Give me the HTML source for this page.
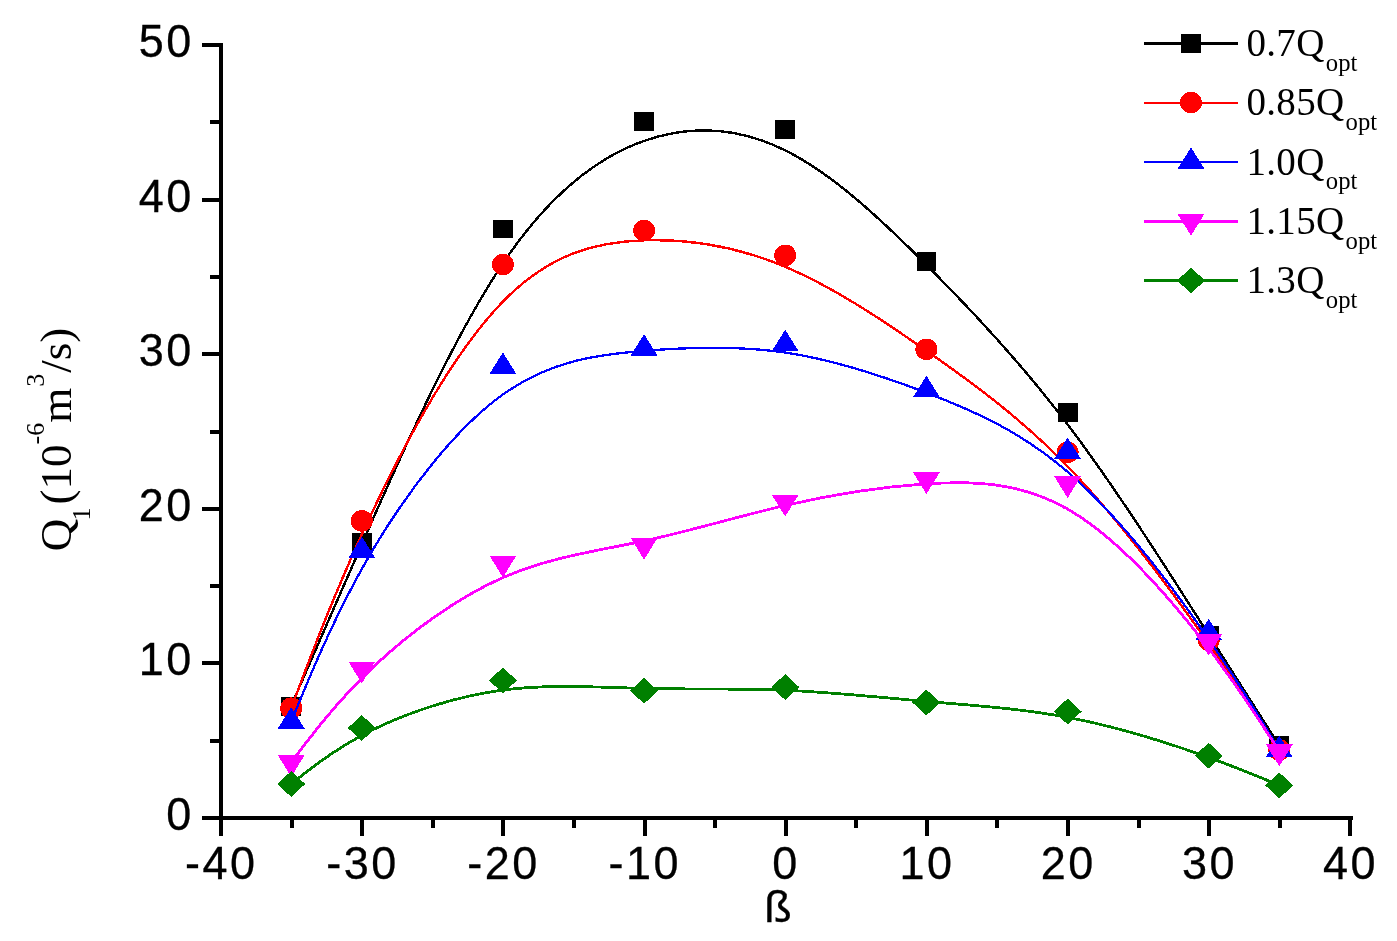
<!DOCTYPE html>
<html lang="en"><head><meta charset="utf-8"><title>Q1 vs beta</title>
<style>html,body{margin:0;padding:0;background:#fff}body{width:1397px;height:941px;overflow:hidden}svg{display:block}.t{font-family:"Liberation Sans",Arial,sans-serif;font-size:45px;letter-spacing:2.5px;fill:#000;stroke:#000;stroke-width:.3px}.l{font-family:"Liberation Serif","Times New Roman",serif;font-size:39px;letter-spacing:.3px;fill:#000}.y{font-family:"Liberation Serif","Times New Roman",serif;font-size:45px;fill:#000}</style></head><body>
<svg width="1397" height="941" viewBox="0 0 1397 941">
<rect width="1397" height="941" fill="#fff"/>
<g fill="#000" shape-rendering="crispEdges">
<rect x="219" y="43" width="4" height="793"/>
<rect x="202" y="816" width="1151" height="4"/>
<rect x="202" y="816" width="19" height="4"/>
<rect x="210" y="739" width="11" height="4"/>
<rect x="202" y="661" width="19" height="4"/>
<rect x="210" y="584" width="11" height="4"/>
<rect x="202" y="507" width="19" height="4"/>
<rect x="210" y="430" width="11" height="4"/>
<rect x="202" y="352" width="19" height="4"/>
<rect x="210" y="275" width="11" height="4"/>
<rect x="202" y="198" width="19" height="4"/>
<rect x="210" y="120" width="11" height="4"/>
<rect x="202" y="43" width="19" height="4"/>
<rect x="219" y="818" width="4" height="18"/>
<rect x="290" y="818" width="4" height="10"/>
<rect x="360" y="818" width="4" height="18"/>
<rect x="431" y="818" width="4" height="10"/>
<rect x="501" y="818" width="4" height="18"/>
<rect x="572" y="818" width="4" height="10"/>
<rect x="643" y="818" width="4" height="18"/>
<rect x="713" y="818" width="4" height="10"/>
<rect x="784" y="818" width="4" height="18"/>
<rect x="854" y="818" width="4" height="10"/>
<rect x="925" y="818" width="4" height="18"/>
<rect x="995" y="818" width="4" height="10"/>
<rect x="1066" y="818" width="4" height="18"/>
<rect x="1137" y="818" width="4" height="10"/>
<rect x="1207" y="818" width="4" height="18"/>
<rect x="1278" y="818" width="4" height="10"/>
<rect x="1348" y="818" width="4" height="18"/>
</g>
<g class="t" text-anchor="end">
<text transform="translate(193.7 830.0) scale(1 1.032)">0</text>
<text transform="translate(193.7 675.4) scale(1 1.032)">10</text>
<text transform="translate(193.7 520.8) scale(1 1.032)">20</text>
<text transform="translate(193.7 366.2) scale(1 1.032)">30</text>
<text transform="translate(193.7 211.6) scale(1 1.032)">40</text>
<text transform="translate(193.7 57.0) scale(1 1.032)">50</text>
</g>
<g class="t" text-anchor="middle">
<text transform="translate(221.3 879) scale(1 1.032)">-40</text>
<text transform="translate(362.5 879) scale(1 1.032)">-30</text>
<text transform="translate(503.6 879) scale(1 1.032)">-20</text>
<text transform="translate(644.8 879) scale(1 1.032)">-10</text>
<text transform="translate(785.9 879) scale(1 1.032)">0</text>
<text transform="translate(927.1 879) scale(1 1.032)">10</text>
<text transform="translate(1068.3 879) scale(1 1.032)">20</text>
<text transform="translate(1209.4 879) scale(1 1.032)">30</text>
<text transform="translate(1350.6 879) scale(1 1.032)">40</text>
<text transform="translate(779.3 922) scale(1 .99)">ß</text>
</g>
<text class="y" transform="translate(71 551.3) rotate(-90)">Q<tspan dx="-1.6" dy="18.7" font-size="26">1</tspan><tspan dx="3" dy="-18.7">(10</tspan><tspan dx="0" dy="-27.3" font-size="26">-6</tspan><tspan dy="27.3">m</tspan><tspan dx="1" dy="-27.3" font-size="26">3</tspan><tspan dx="1" dy="27.3">/s)</tspan></text>
<g shape-rendering="crispEdges">
<path d="M291.18 706.07C291.18 706.07 291.18 706.07 302.94 678.86C314.71 651.65 338.23 597.23 373.52 517.72C408.81 438.20 455.87 333.59 502.92 263.40C549.97 193.21 597.03 157.45 644.08 140.90C691.13 124.36 738.19 127.04 785.24 150.39C832.29 173.73 879.35 217.74 926.40 264.84C973.45 311.94 1020.51 362.14 1067.56 424.34C1114.61 486.54 1161.67 560.75 1196.96 616.30C1232.25 671.85 1255.77 708.75 1267.54 727.20C1279.30 745.65 1279.30 745.65 1279.30 745.65" fill="none" stroke="#000000" stroke-width="2.4"/>
<rect x="281.3" y="696.7" width="19.8" height="18.8" fill="#000000"/>
<rect x="351.9" y="533.4" width="19.8" height="18.8" fill="#000000"/>
<rect x="493.0" y="219.6" width="19.8" height="18.8" fill="#000000"/>
<rect x="634.2" y="112.3" width="19.8" height="18.8" fill="#000000"/>
<rect x="775.3" y="120.3" width="19.8" height="18.8" fill="#000000"/>
<rect x="916.5" y="252.3" width="19.8" height="18.8" fill="#000000"/>
<rect x="1057.7" y="402.9" width="19.8" height="18.8" fill="#000000"/>
<rect x="1198.8" y="625.6" width="19.8" height="18.8" fill="#000000"/>
<rect x="1269.4" y="736.2" width="19.8" height="18.8" fill="#000000"/>
</g>
<g shape-rendering="crispEdges">
<path d="M291.18 708.23C291.18 708.23 291.18 708.23 302.94 677.00C314.71 645.78 338.23 583.32 373.52 509.37C408.81 435.42 455.87 349.97 502.92 301.58C549.97 253.19 597.03 241.86 644.08 240.31C691.13 238.77 738.19 247.01 785.24 266.80C832.29 286.59 879.35 317.92 926.40 350.75C973.45 383.57 1020.51 417.90 1067.56 466.39C1114.61 514.88 1161.67 577.55 1196.96 627.17C1232.25 676.80 1255.77 713.39 1267.54 731.68C1279.30 749.98 1279.30 749.98 1279.30 749.98" fill="none" stroke="#ff0000" stroke-width="2.4"/>
<ellipse cx="291.2" cy="708.2" rx="11" ry="10.8" fill="#ff0000"/>
<ellipse cx="361.8" cy="520.9" rx="11" ry="10.8" fill="#ff0000"/>
<ellipse cx="502.9" cy="264.5" rx="11" ry="10.8" fill="#ff0000"/>
<ellipse cx="644.1" cy="230.5" rx="11" ry="10.8" fill="#ff0000"/>
<ellipse cx="785.2" cy="255.3" rx="11" ry="10.8" fill="#ff0000"/>
<ellipse cx="926.4" cy="349.3" rx="11" ry="10.8" fill="#ff0000"/>
<ellipse cx="1067.6" cy="452.2" rx="11" ry="10.8" fill="#ff0000"/>
<ellipse cx="1208.7" cy="640.2" rx="11" ry="10.8" fill="#ff0000"/>
<ellipse cx="1279.3" cy="750.0" rx="11" ry="10.8" fill="#ff0000"/>
</g>
<g shape-rendering="crispEdges">
<path d="M291.18 721.53C291.18 721.53 291.18 721.53 302.94 693.08C314.71 664.64 338.23 607.74 373.52 548.64C408.81 489.53 455.87 428.20 502.92 394.47C549.97 360.74 597.03 354.61 644.08 350.82C691.13 347.04 738.19 345.59 785.24 352.53C832.29 359.46 879.35 374.76 926.40 392.72C973.45 410.68 1020.51 431.29 1067.56 471.80C1114.61 512.30 1161.67 572.70 1196.96 622.38C1232.25 672.06 1255.77 711.02 1267.54 730.50C1279.30 749.98 1279.30 749.98 1279.30 749.98" fill="none" stroke="#0000ff" stroke-width="2.3"/>
<polygon points="291.2,707.1 304.7,728.7 277.7,728.7" fill="#0000ff"/>
<polygon points="361.8,536.5 375.3,558.1 348.3,558.1" fill="#0000ff"/>
<polygon points="502.9,352.5 516.4,374.1 489.4,374.1" fill="#0000ff"/>
<polygon points="644.1,334.1 657.6,355.7 630.6,355.7" fill="#0000ff"/>
<polygon points="785.2,329.8 798.7,351.4 771.7,351.4" fill="#0000ff"/>
<polygon points="926.4,375.7 939.9,397.3 912.9,397.3" fill="#0000ff"/>
<polygon points="1067.6,437.5 1081.1,459.1 1054.1,459.1" fill="#0000ff"/>
<polygon points="1208.7,618.7 1222.2,640.3 1195.2,640.3" fill="#0000ff"/>
<polygon points="1279.3,735.6 1292.8,757.2 1265.8,757.2" fill="#0000ff"/>
</g>
<g shape-rendering="crispEdges">
<path d="M291.18 762.34C291.18 762.34 291.18 762.34 302.94 746.76C314.71 731.17 338.23 699.99 373.52 666.75C408.81 633.51 455.87 598.21 502.92 577.60C549.97 556.98 597.03 551.06 644.08 540.91C691.13 530.75 738.19 516.38 785.24 505.42C832.29 494.47 879.35 486.95 926.40 483.86C973.45 480.77 1020.51 482.11 1067.56 509.06C1114.61 536.01 1161.67 588.57 1196.96 633.25C1232.25 677.93 1255.77 714.73 1267.54 733.12C1279.30 751.52 1279.30 751.52 1279.30 751.52" fill="none" stroke="#ff00ff" stroke-width="2.8"/>
<polygon points="291.2,776.9 304.7,755.1 277.7,755.1" fill="#ff00ff"/>
<polygon points="361.8,683.3 375.3,661.5 348.3,661.5" fill="#ff00ff"/>
<polygon points="502.9,577.4 516.4,555.6 489.4,555.6" fill="#ff00ff"/>
<polygon points="644.1,559.7 657.6,537.9 630.6,537.9" fill="#ff00ff"/>
<polygon points="785.2,516.5 798.7,494.7 771.7,494.7" fill="#ff00ff"/>
<polygon points="926.4,494.0 939.9,472.2 912.9,472.2" fill="#ff00ff"/>
<polygon points="1067.6,498.0 1081.1,476.2 1054.1,476.2" fill="#ff00ff"/>
<polygon points="1208.7,655.7 1222.2,633.9 1195.2,633.9" fill="#ff00ff"/>
<polygon points="1279.3,766.1 1292.8,744.3 1265.8,744.3" fill="#ff00ff"/>
</g>
<g shape-rendering="crispEdges">
<path d="M291.18 783.99C291.18 783.99 291.18 783.99 302.94 774.66C314.71 765.33 338.23 746.68 373.52 729.41C408.81 712.15 455.87 696.28 502.92 690.07C549.97 683.86 597.03 687.31 644.08 688.42C691.13 689.53 738.19 688.29 785.24 690.25C832.29 692.21 879.35 697.36 926.40 701.43C973.45 705.50 1020.51 708.49 1067.56 717.36C1114.61 726.22 1161.67 740.96 1196.96 753.27C1232.25 765.59 1255.77 775.49 1267.54 780.43C1279.30 785.38 1279.30 785.38 1279.30 785.38" fill="none" stroke="#008000" stroke-width="2.8"/>
<polygon points="291.2,771.1 305.2,784.0 291.2,796.9 277.2,784.0" fill="#008000"/>
<polygon points="361.8,715.1 375.8,728.0 361.8,740.9 347.8,728.0" fill="#008000"/>
<polygon points="502.9,667.5 516.9,680.4 502.9,693.3 488.9,680.4" fill="#008000"/>
<polygon points="644.1,677.9 658.1,690.8 644.1,703.7 630.1,690.8" fill="#008000"/>
<polygon points="785.2,674.2 799.2,687.1 785.2,700.0 771.2,687.1" fill="#008000"/>
<polygon points="926.4,689.6 940.4,702.5 926.4,715.4 912.4,702.5" fill="#008000"/>
<polygon points="1067.6,698.6 1081.6,711.5 1067.6,724.4 1053.6,711.5" fill="#008000"/>
<polygon points="1208.7,742.8 1222.7,755.7 1208.7,768.6 1194.7,755.7" fill="#008000"/>
<polygon points="1279.3,772.5 1293.3,785.4 1279.3,798.3 1265.3,785.4" fill="#008000"/>
</g>
<rect x="1144" y="42" width="94" height="3" fill="#000000" shape-rendering="crispEdges"/>
<g shape-rendering="crispEdges"><rect x="1181.1" y="33.9" width="19.8" height="18.8" fill="#000000"/></g>
<text class="l" x="1246.5" y="56.1">0.7Q<tspan dx="1.2" dy="14.5" font-size="24.7" letter-spacing="0">opt</tspan></text>
<rect x="1144" y="102" width="94" height="2" fill="#ff0000" shape-rendering="crispEdges"/>
<g shape-rendering="crispEdges"><ellipse cx="1191.0" cy="102.6" rx="11" ry="10.8" fill="#ff0000"/></g>
<text class="l" x="1246.5" y="115.4">0.85Q<tspan dx="1.2" dy="14.5" font-size="24.7" letter-spacing="0">opt</tspan></text>
<rect x="1144" y="161" width="94" height="2" fill="#0000ff" shape-rendering="crispEdges"/>
<g shape-rendering="crispEdges"><polygon points="1191.0,147.5 1204.5,169.1 1177.5,169.1" fill="#0000ff"/></g>
<text class="l" x="1246.5" y="174.7">1.0Q<tspan dx="1.2" dy="14.5" font-size="24.7" letter-spacing="0">opt</tspan></text>
<rect x="1144" y="220" width="94" height="3" fill="#ff00ff" shape-rendering="crispEdges"/>
<g shape-rendering="crispEdges"><polygon points="1191.0,235.7 1204.5,213.9 1177.5,213.9" fill="#ff00ff"/></g>
<text class="l" x="1246.5" y="234.0">1.15Q<tspan dx="1.2" dy="14.5" font-size="24.7" letter-spacing="0">opt</tspan></text>
<rect x="1144" y="279" width="94" height="3" fill="#008000" shape-rendering="crispEdges"/>
<g shape-rendering="crispEdges"><polygon points="1191.0,267.6 1205.0,280.5 1191.0,293.4 1177.0,280.5" fill="#008000"/></g>
<text class="l" x="1246.5" y="293.3">1.3Q<tspan dx="1.2" dy="14.5" font-size="24.7" letter-spacing="0">opt</tspan></text>
</svg></body></html>
